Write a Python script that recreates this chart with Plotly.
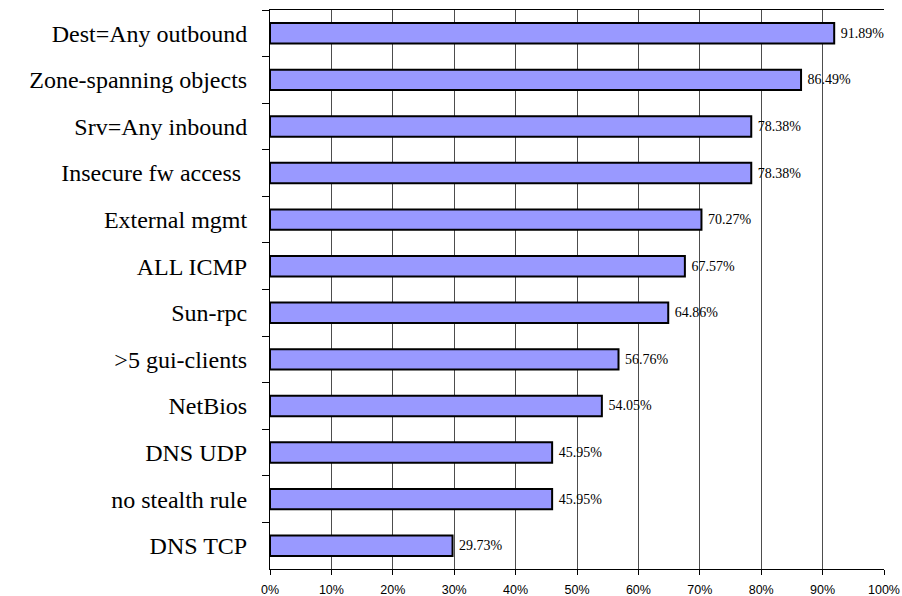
import plotly.graph_objects as go

categories = ["Dest=Any outbound", "Zone-spanning objects", "Srv=Any inbound",
              "Insecure fw access ", "External mgmt", "ALL ICMP", "Sun-rpc",
              ">5 gui-clients", "NetBios", "DNS UDP", "no stealth rule", "DNS TCP"]
values = [91.89, 86.49, 78.38, 78.38, 70.27, 67.57, 64.86, 56.76, 54.05, 45.95, 45.95, 29.73]
x_ticks = list(range(0, 101, 10))
x_tick_labels = [f"{v}%" for v in x_ticks]

fig = go.Figure(go.Bar(
    y=categories, x=values, orientation="h",
    marker=dict(color="#9999FF", line=dict(color="black", width=2)),
    text=[f" {v:.2f}%" for v in values], textposition="outside",
    textfont=dict(family="Liberation Serif", size=14, color="black"),
    cliponaxis=False,
))

fig.update_layout(
    width=902, height=596,
    margin=dict(l=270, r=18, t=10, b=27),
    plot_bgcolor="white", paper_bgcolor="white",
    bargap=0.56, showlegend=False,
)
fig.update_xaxes(
    range=[0, 100], tickvals=x_ticks, ticktext=x_tick_labels,
    showgrid=True, gridcolor="#4d4d4d", gridwidth=1,
    showline=True, linecolor="black", linewidth=1, mirror=True,
    ticks="outside", ticklen=5, tickcolor="black",
    ticklabelstandoff=4, automargin=False,
    tickfont=dict(family="Liberation Sans", size=12.5, color="black"),
    zeroline=False,
)
fig.update_yaxes(
    autorange="reversed", tickson="boundaries",
    showline=True, linecolor="black", linewidth=1,
    ticks="outside", ticklen=7, tickcolor="black",
    ticklabelstandoff=17, automargin=False,
    tickfont=dict(family="Liberation Serif", size=24, color="black"),
    showgrid=False,
)

fig.write_html("out.html")
